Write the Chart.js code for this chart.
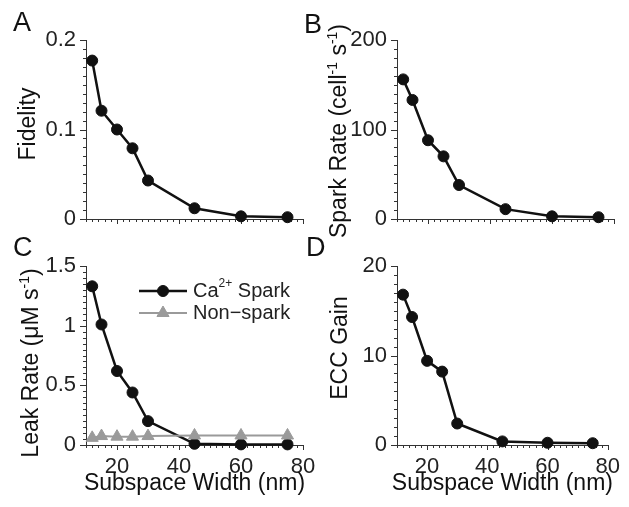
<!DOCTYPE html>
<html>
<head>
<meta charset="utf-8">
<script src="https://cdn.jsdelivr.net/npm/chart.js@4/dist/chart.umd.min.js"></script>
<style>
  body { margin: 0; background: #fff; }
  #wrap { position: relative; width: 629px; height: 507px; }
  #wrap canvas { position: absolute; left: 0; top: 0; }
</style>
</head>
<body>
<div id="wrap">
  <canvas id="chartA" width="629" height="507"></canvas>
  <canvas id="chartB" width="629" height="507"></canvas>
  <canvas id="chartC" width="629" height="507"></canvas>
  <canvas id="chartD" width="629" height="507"></canvas>
</div>
<script>
// subspace width (nm)
const xValues = [12, 15, 20, 25, 30, 45, 60, 75];
const xTicks = [20, 40, 60, 80];

const fidelity = [0.177, 0.121, 0.100, 0.079, 0.043, 0.012, 0.003, 0.002];
const sparkRate = [156, 133, 88, 70, 38, 11, 3, 2];
const leakSpark = [1.33, 1.01, 0.62, 0.44, 0.20, 0.01, 0.005, 0.005];
const leakNonSpark = [0.06, 0.075, 0.07, 0.07, 0.075, 0.08, 0.08, 0.08];
const eccGain = [16.8, 14.3, 9.4, 8.2, 2.4, 0.4, 0.25, 0.2];

const yTicksA = [0, 0.1, 0.2];
const yTicksB = [0, 100, 200];
const yTicksC = [0, 0.5, 1, 1.5];
const yTicksD = [0, 10, 20];

const black = "#111111";
const grey = "#9a9a9a";
const axisColor = "#333333";
const textColor = "#222222";
const FONT = "'Liberation Sans', Arial, sans-serif";

Chart.defaults.font.family = FONT;
Chart.defaults.font.size = 22;
Chart.defaults.color = textColor;

function toPoints(vals) {
  return xValues.map((x, i) => ({ x: x, y: vals[i] }));
}

// draw text made of [text, isSuperscript] parts, centred on x
function richText(ctx, parts, x, y, size) {
  const supSize = Math.round(size * 0.62);
  let total = 0;
  parts.forEach(p => {
    ctx.font = (p[1] ? supSize : size) + "px " + FONT;
    total += ctx.measureText(p[0]).width;
  });
  let cx = x - total / 2;
  parts.forEach(p => {
    ctx.font = (p[1] ? supSize : size) + "px " + FONT;
    ctx.fillText(p[0], cx, p[1] ? y - size * 0.38 : y);
    cx += ctx.measureText(p[0]).width;
  });
  return total;
}

const tickMarks = {
  id: "tickMarks",
  beforeDatasetsDraw(chart, args, o) {
    const ctx = chart.ctx, a = chart.chartArea;
    const xs = chart.scales.x, ys = chart.scales.y;
    ctx.save();
    ctx.strokeStyle = axisColor;
    ctx.lineWidth = 1;
    ctx.beginPath();
    let n = Math.round((xs.max - xs.min) / o.xMinor);
    for (let i = 0; i <= n; i++) {
      const v = xs.min + i * o.xMinor;
      const px = Math.round(xs.getPixelForValue(v)) + 0.5;
      const major = xTicks.some(t => Math.abs(t - v) < 1e-6);
      ctx.moveTo(px, a.bottom);
      ctx.lineTo(px, a.bottom + (major ? 5 : 3));
    }
    n = Math.round((ys.max - ys.min) / o.yMinor);
    for (let i = 0; i <= n; i++) {
      const v = ys.min + i * o.yMinor;
      const py = Math.round(ys.getPixelForValue(v)) + 0.5;
      const major = o.yMajor.some(t => Math.abs(t - v) < o.yMinor / 10);
      ctx.moveTo(a.left, py);
      ctx.lineTo(a.left - (major ? 6 : 3), py);
    }
    ctx.stroke();
    ctx.restore();
  },
  afterDraw(chart, args, o) {
    const ctx = chart.ctx, a = chart.chartArea;
    ctx.save();
    ctx.fillStyle = "#111";
    ctx.textAlign = "left";
    ctx.textBaseline = "alphabetic";
    ctx.font = "27px " + FONT;
    ctx.fillText(o.letter[0], o.letter[1], o.letter[2]);

    ctx.save();
    ctx.translate(o.yTitle[1], o.yTitle[2]);
    ctx.rotate(-Math.PI / 2);
    richText(ctx, o.yTitle[0], 0, 0, 23);
    ctx.restore();

    if (o.xTitle) {
      richText(ctx, [[o.xTitle]], (a.left + a.right) / 2, 490, 23);
    }

    if (o.legend) {
      o.legend.forEach(item => {
        ctx.strokeStyle = item.color;
        ctx.fillStyle = item.color;
        ctx.lineWidth = item.width;
        ctx.beginPath();
        ctx.moveTo(139, item.y);
        ctx.lineTo(187, item.y);
        ctx.stroke();
        ctx.lineWidth = 1;
        Chart.helpers.drawPoint(ctx, { pointStyle: item.style, radius: item.radius, rotation: 0, borderWidth: 1 }, 163, item.y);
        ctx.fillStyle = textColor;
        ctx.textAlign = "left";
        ctx.textBaseline = "middle";
        let tx = 193;
        item.parts.forEach(p => {
          const s = p[1] ? 12 : 20;
          ctx.font = s + "px " + FONT;
          ctx.fillText(p[0], tx, p[1] ? item.y - 7 : item.y);
          tx += ctx.measureText(p[0]).width;
        });
      });
    }
    ctx.restore();
  }
};

function lineSet(vals, color, style, radius, width) {
  return {
    data: toPoints(vals),
    borderColor: color,
    backgroundColor: color,
    borderWidth: width,
    pointStyle: style,
    pointRadius: radius,
    pointBorderWidth: 1,
    pointBackgroundColor: color,
    pointBorderColor: color,
    clip: false
  };
}

function panel(id, pad, datasets, yMax, yMajor, yMinor, showX, deco) {
  deco.xMinor = 2;
  deco.yMinor = yMinor;
  deco.yMajor = yMajor;
  return new Chart(id, {
    type: "scatter",
    data: { datasets: datasets },
    options: {
      responsive: false,
      animation: false,
      showLine: true,
      layout: { padding: pad },
      plugins: {
        legend: { display: false },
        tooltip: { enabled: false },
        tickMarks: deco
      },
      scales: {
        x: {
          type: "linear",
          min: 10,
          max: 80,
          afterFit: s => { s.height = 30; },
          afterBuildTicks: s => { s.ticks = xTicks.map(v => ({ value: v })); },
          grid: { display: false, drawTicks: false },
          border: { display: true, color: axisColor, width: 1 },
          ticks: { display: showX, padding: 9, maxRotation: 0, color: textColor }
        },
        y: {
          min: 0,
          max: yMax,
          afterFit: s => { s.width = 60; },
          afterBuildTicks: s => { s.ticks = yMajor.map(v => ({ value: v })); },
          grid: { display: false, drawTicks: false },
          border: { display: true, color: axisColor, width: 1 },
          ticks: { padding: 10, color: textColor, callback: v => String(v) }
        }
      }
    },
    plugins: [tickMarks]
  });
}

panel("chartA", { left: 26, right: 326, top: 40, bottom: 258 },
  [lineSet(fidelity, black, "circle", 5.5, 2.5)],
  0.2, yTicksA, 0.01, false,
  { letter: ["A", 13, 31], yTitle: [[["Fidelity"]], 35, 124] });

panel("chartB", { left: 337, right: 15, top: 40, bottom: 258 },
  [lineSet(sparkRate, black, "circle", 5.5, 2.5)],
  200, yTicksB, 10, false,
  { letter: ["B", 304, 33], yTitle: [[["Spark Rate (cell"], ["-1", true], [" s"], ["-1", true], [")"]], 346, 131] });

panel("chartC", { left: 26, right: 326, top: 266, bottom: 32 },
  [lineSet(leakNonSpark, grey, "triangle", 7, 2), lineSet(leakSpark, black, "circle", 5.5, 2.5)],
  1.5, yTicksC, 0.05, true,
  {
    letter: ["C", 13, 256],
    yTitle: [[["Leak Rate (\u03bcM s"], ["-1", true], [")"]], 38, 363],
    xTitle: "Subspace Width (nm)",
    legend: [
      { y: 291, color: black, width: 2.5, style: "circle", radius: 5.5, parts: [["Ca"], ["2+", true], [" Spark"]] },
      { y: 313, color: grey, width: 2, style: "triangle", radius: 7, parts: [["Non\u2212spark"]] }
    ]
  });

panel("chartD", { left: 337, right: 15, top: 266, bottom: 32 },
  [lineSet(eccGain, black, "circle", 5.5, 2.5)],
  20, yTicksD, 1, true,
  { letter: ["D", 306, 256], yTitle: [[["ECC Gain"]], 347, 348], xTitle: "Subspace Width (nm)" });
</script>
</body>
</html>
